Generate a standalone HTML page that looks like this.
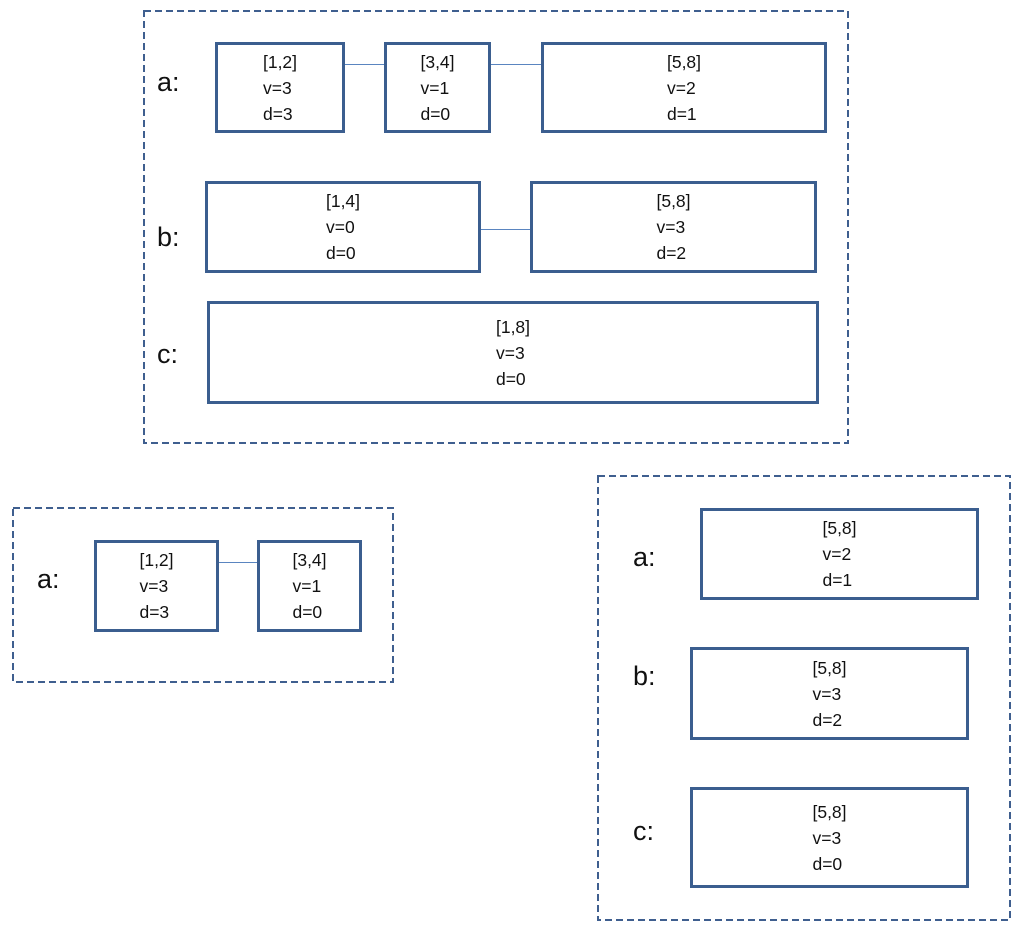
<!DOCTYPE html>
<html><head><meta charset="utf-8"><style>
body{margin:0;width:1024px;height:935px;background:#fff;position:relative;font-family:"Liberation Sans",sans-serif;color:#111;overflow:hidden}
.b{position:absolute;border:3px solid #3b5e8f;box-sizing:border-box;display:flex;align-items:center;justify-content:center;background:#fff}
.b div{text-align:left;font-size:17.5px;line-height:26px}
.l{position:absolute;height:1px;background:#5a85c0}
.t{position:absolute;font-size:27px;line-height:1}
svg{position:absolute;left:0;top:0}
</style></head><body>
<svg width="1024" height="935">
<g fill="none" stroke="#3f5f8f" stroke-width="2" stroke-dasharray="7 4">
<rect x="144" y="11" width="704" height="432"/>
<rect x="13" y="508" width="380" height="174"/>
<rect x="598" y="476" width="412" height="444"/>
</g></svg>

<div class="l" style="left:344px;top:64px;width:41px"></div>
<div class="l" style="left:490px;top:64px;width:52px"></div>
<div class="l" style="left:480px;top:229px;width:51px"></div>
<div class="l" style="left:218px;top:562px;width:40px"></div>

<div class="t" style="left:157px;top:69px">a:</div>
<div class="t" style="left:157px;top:224px">b:</div>
<div class="t" style="left:157px;top:341px">c:</div>
<div class="t" style="left:37px;top:566px">a:</div>
<div class="t" style="left:633px;top:544px">a:</div>
<div class="t" style="left:633px;top:663px">b:</div>
<div class="t" style="left:633px;top:818px">c:</div>

<div class="b" style="left:215px;top:42px;width:130px;height:91px"><div>[1,2]<br>v=3<br>d=3</div></div>
<div class="b" style="left:384px;top:42px;width:107px;height:91px"><div>[3,4]<br>v=1<br>d=0</div></div>
<div class="b" style="left:541px;top:42px;width:286px;height:91px"><div>[5,8]<br>v=2<br>d=1</div></div>
<div class="b" style="left:205px;top:181px;width:276px;height:92px"><div>[1,4]<br>v=0<br>d=0</div></div>
<div class="b" style="left:530px;top:181px;width:287px;height:92px"><div>[5,8]<br>v=3<br>d=2</div></div>
<div class="b" style="left:207px;top:301px;width:612px;height:103px"><div>[1,8]<br>v=3<br>d=0</div></div>

<div class="b" style="left:94px;top:540px;width:125px;height:92px"><div>[1,2]<br>v=3<br>d=3</div></div>
<div class="b" style="left:257px;top:540px;width:105px;height:92px"><div>[3,4]<br>v=1<br>d=0</div></div>

<div class="b" style="left:700px;top:508px;width:279px;height:92px"><div>[5,8]<br>v=2<br>d=1</div></div>
<div class="b" style="left:690px;top:647px;width:279px;height:93px"><div>[5,8]<br>v=3<br>d=2</div></div>
<div class="b" style="left:690px;top:787px;width:279px;height:101px"><div>[5,8]<br>v=3<br>d=0</div></div>
</body></html>
